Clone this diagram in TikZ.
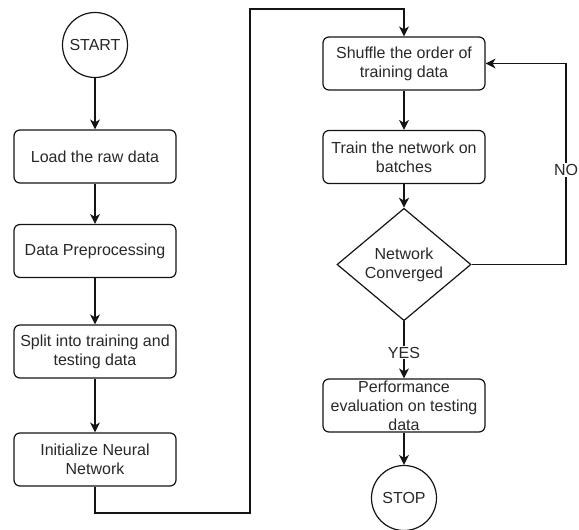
\documentclass[tikz,border=0pt]{standalone}
\usepackage{fontspec}
\setmainfont{Liberation Sans}
\usetikzlibrary{shapes.geometric,arrows.meta}
\definecolor{txt}{RGB}{40,40,40}
\definecolor{ln}{RGB}{20,20,20}
\begin{document}
\begin{tikzpicture}[x=1pt,y=-1pt,
  every node/.style={font=\fontsize{16}{19.2}\selectfont, text=txt},
  procbox/.style={draw=ln, line width=1.2pt, rounded corners=6pt, minimum width=162pt, minimum height=53pt, inner sep=0pt, align=center},
  term/.style={draw=ln, line width=1.2pt, circle, minimum size=65pt, inner sep=0pt},
  decis/.style={draw=ln, line width=1.2pt, diamond, minimum width=134pt, minimum height=105pt, inner sep=0pt, align=center},
  conn/.style={draw=ln, line width=1.3pt, -{Stealth[length=10pt,width=10pt,inset=3pt]}},
  lab/.style={fill=white, inner sep=1pt}
]
\useasboundingbox (0,0) rectangle (579,530);
\node[term] (start) at (95,45) {START};
\node[procbox] (load) at (95,156.5) {Load the raw data};
\node[procbox] (prep) at (95,251) {Data Preprocessing};
\node[procbox] (split) at (95,351.5) {Split into training and\\testing data};
\node[procbox] (init) at (95,459.5) {Initialize Neural\\Network};
\node[procbox] (shuf) at (404,63.5) {Shuffle the order of\\training data};
\node[procbox] (train) at (404,157) {Train the network on\\batches};
\node[decis] (conv) at (404,264.5) {Network\\Converged};
\node[procbox] (perf) at (404,405.5) {Performance\\evaluation on testing\\data};
\node[term] (stop) at (404,498) {STOP};
\coordinate (c1) at (95,513);
\coordinate (c2) at (250,513);
\coordinate (c3) at (250,9);
\coordinate (c4) at (404,9);
\coordinate (n1) at (566,264.5);
\coordinate (n2) at (566,63.5);
\draw[conn] (start) -- (load);
\draw[conn] (load) -- (prep);
\draw[conn] (prep) -- (split);
\draw[conn] (split) -- (init);
\draw[conn] (init.south) -- (c1) -- (c2) -- (c3) -- (c4) -- (shuf.north);
\draw[conn] (shuf) -- (train);
\draw[conn] (train) -- (conv.north);
\draw[conn] (conv.south) -- node[lab, pos=0.55] {YES} (perf.north);
\draw[conn] (conv.east) -- (n1) -- node[lab, pos=0.47] {NO} (n2) -- (shuf.east);
\draw[conn] (perf) -- (stop);
\end{tikzpicture}
\end{document}
